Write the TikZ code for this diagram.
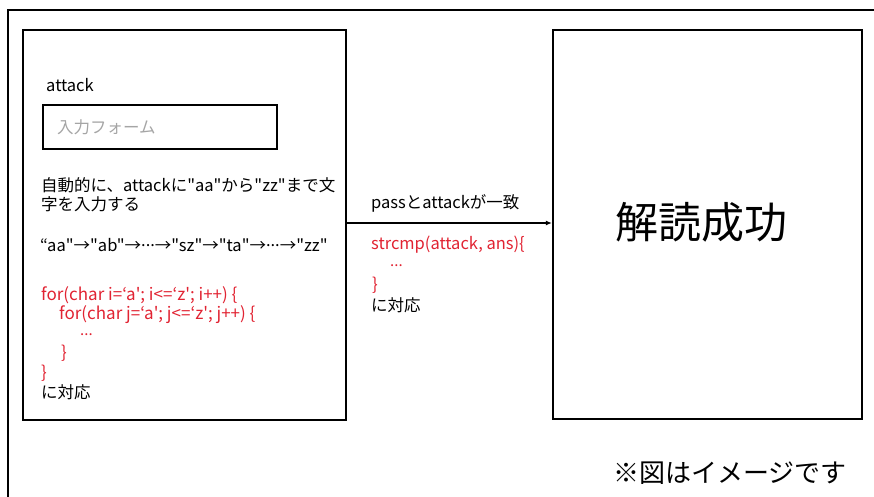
\documentclass[tikz,border=0pt]{standalone}
\usepackage{fontspec}
\setmainfont{Noto Sans CJK JP}[Ligatures=TeXOff]
\usetikzlibrary{arrows.meta}
\definecolor{codered}{RGB}{225,35,50}
\definecolor{hintgray}{RGB}{165,165,165}
\newcommand{\middots}{\raisebox{0.28em}{...}}
\begin{document}
\begin{tikzpicture}[x=1pt,y=-1pt,
  frame/.style={draw=black,line width=2.2pt,inner sep=0pt},
  txt/.style={anchor=west,inner sep=0pt,font=\fontsize{16.5}{19}\selectfont},
  code/.style={txt,text=codered,font=\fontsize{17}{19}\selectfont},
  dots/.style={code,font=\fontsize{15}{15}\selectfont}]
\useasboundingbox (0,0) rectangle (874,497);
\clip (0,0) rectangle (874,497);
% outer frame (cut at right and bottom)
\draw[line width=2pt] (8,10) rectangle (890,520);
% boxes
\node[frame,minimum width=323pt,minimum height=390pt] (left) at (184.5,225) {};
\node[frame,minimum width=309pt,minimum height=389pt] (right) at (707.5,224.5) {};
\node[frame,line width=2.6pt,minimum width=234pt,minimum height=44pt] (form) at (160,127) {};
% left texts
\node[txt] (t1) at (46,85) {attack};
\node[txt,text=hintgray] (t2) at (57,127) {入力フォーム};
\node[txt] (t3) at (41,185) {自動的に、attackに"aa"から"zz"まで文};
\node[txt] (t4) at (41,204) {字を入力する};
\node[txt] (t5) at (40,245) {“aa"→"ab"→\middots→"sz"→"ta"→\middots→"zz"};
\node[code] (c1) at (41,295) {for(char i=‘a'; i<=‘z'; i++) \{};
\node[code] (c2) at (59,315) {for(char j=‘a'; j<=‘z'; j++) \{};
\node[dots] (c3) at (80,335) {...};
\node[code] (c4) at (61,353) {\}};
\node[code] (c5) at (41,373) {\}};
\node[txt] (t6) at (41,392) {に対応};
% middle
\coordinate (ay) at (0,223);
\draw[-{Latex[length=6pt,width=5pt]},line width=1.4pt] (left.east |- ay) -- (right.west |- ay);
\node[txt] (m1) at (371,203) {passとattackが一致};
\node[code,font=\fontsize{16.5}{19}\selectfont] (m2) at (371,245) {strcmp(attack, ans)\{};
\node[dots] (m3) at (390,266) {...};
\node[code] (m4) at (372,285) {\}};
\node[txt] (m5) at (371,305) {に対応};
% right
\node[inner sep=0pt,font=\fontsize{43}{50}\selectfont] (big) at (701,222) {解読成功};
\node[inner sep=0pt,font=\fontsize{26}{30}\selectfont] (note) at (730,473) {※図はイメージです};
\end{tikzpicture}
\end{document}
